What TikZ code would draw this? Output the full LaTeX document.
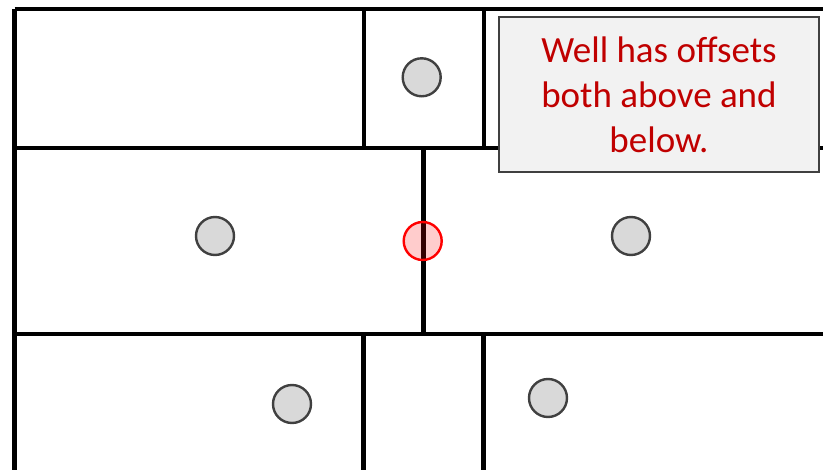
\documentclass[tikz,border=0pt]{standalone}
\usepackage{fontspec}
\setmainfont{Carlito}
\begin{document}
\begin{tikzpicture}[x=1pt,y=-1pt,
  wall/.style={line width=4.4pt,black},
  well/.style={circle,draw={rgb,255:red,64;green,64;blue,64},line width=2.4pt,fill={rgb,255:red,217;green,217;blue,217},minimum size=38pt,inner sep=0pt},
  hot/.style={circle,draw=red,line width=2.4pt,fill=red,fill opacity=0.2,draw opacity=1,minimum size=38pt,inner sep=0pt},
  note/.style={draw={rgb,255:red,64;green,64;blue,64},line width=1.2pt,fill={rgb,255:red,242;green,242;blue,242},minimum width=320pt,minimum height=155pt,inner sep=0pt,align=center,text={rgb,255:red,192;green,0;blue,0},font=\fontsize{37}{45}\selectfont}]
\useasboundingbox (0,0) rectangle (823,470);
% grid lines
\draw[wall] (14.5,9.2) -- (830,9.2);
\draw[wall] (14.5,9.2) -- (14.5,480);
\draw[wall] (14.5,148.2) -- (830,148.2);
\draw[wall] (14.5,334) -- (830,334);
\draw[wall] (363.8,9.2) -- (363.8,148.2);
\draw[wall] (483.8,9.2) -- (483.8,148.2);
\draw[wall] (423.5,148.2) -- (423.5,334);
\draw[wall] (363.5,334) -- (363.5,480);
\draw[wall] (483.3,334) -- (483.3,480);
% wells
\node[well] (w1) at (421.7,77.3) {};
\node[well] (w2) at (215,236) {};
\node[well] (w3) at (631,236) {};
\node[well] (w4) at (292,404) {};
\node[well] (w5) at (548,398) {};
\node[hot] (w6) at (422.7,241) {};
% note
\node[note] (n) at (659,94.5) {Well has offsets\\both above and\\below.};
\end{tikzpicture}
\end{document}
